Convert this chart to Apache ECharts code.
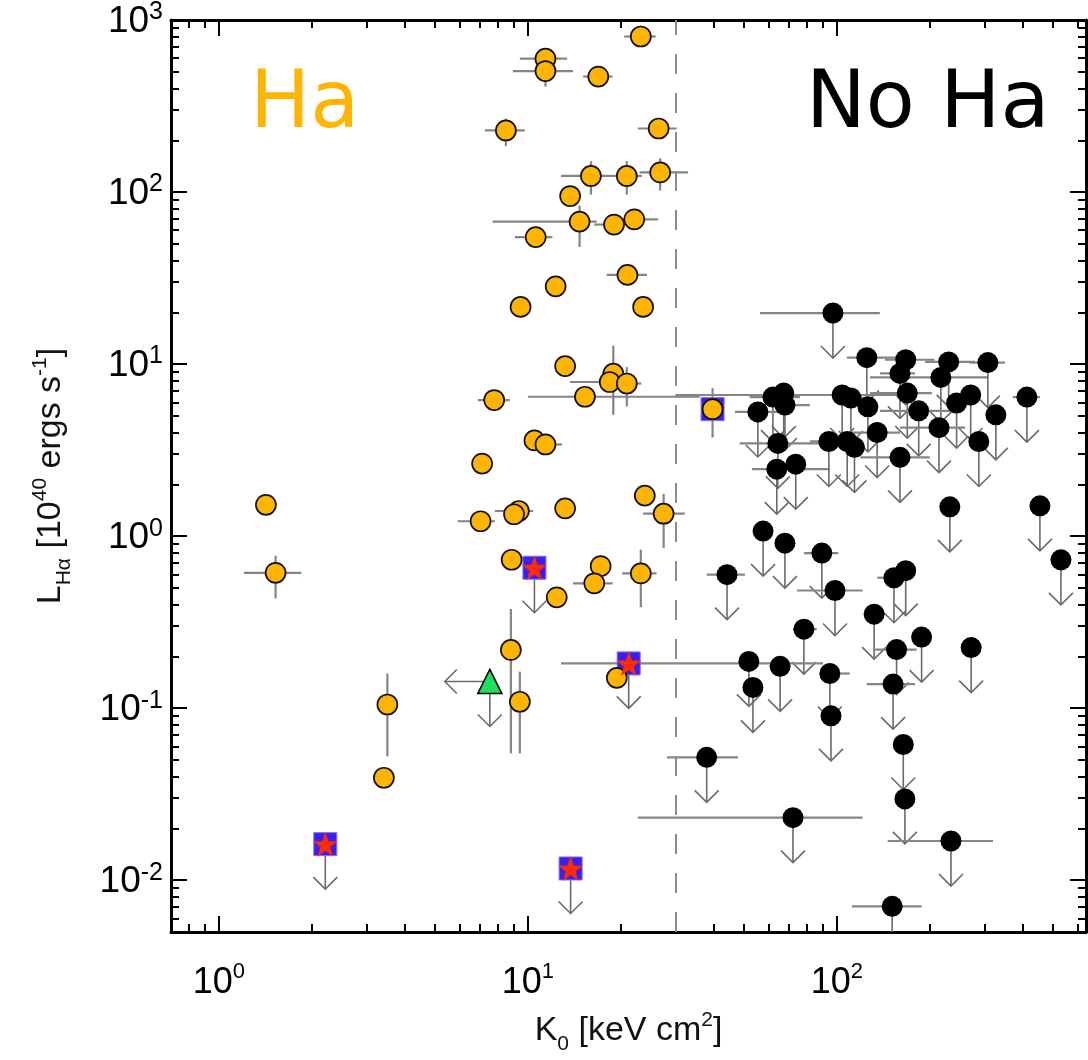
<!DOCTYPE html>
<html>
<head>
<meta charset="utf-8">
<script src="https://cdn.jsdelivr.net/npm/echarts@6/dist/echarts.min.js"></script>
<style>
  html, body { margin: 0; padding: 0; background: #fff; }
  #chart { width: 1088px; height: 1060px; }
</style>
</head>
<body>
<div id="chart"></div>
<script>
// Central entropy K0 (keV cm^2) against H-alpha luminosity (1e40 erg/s).

// Axis ranges and tick values
const xRange = [0.7, 640];
const yRange = [0.005, 1000];
const xMajorTicks = [1, 10, 100];
const yMajorTicks = [0.01, 0.1, 1, 10, 100, 1000];
const xMinorTicks = [0.8, 0.9,
  2, 3, 4, 5, 6, 7, 8, 9,
  20, 30, 40, 50, 60, 70, 80, 90,
  200, 300, 400, 500, 600];
const yMinorTicks = [0.006, 0.007, 0.008, 0.009,
  0.02, 0.03, 0.04, 0.05, 0.06, 0.07, 0.08, 0.09,
  0.2, 0.3, 0.4, 0.5, 0.6, 0.7, 0.8, 0.9,
  2, 3, 4, 5, 6, 7, 8, 9,
  20, 30, 40, 50, 60, 70, 80, 90,
  200, 300, 400, 500, 600, 700, 800, 900];

// Entropy threshold separating the two populations
const entropyThreshold = 30;

// H-alpha detected systems: [K0, L, K0 low, K0 high, L low, L high]
const haDetected = [
  [23.2, 802, 20.5, 25.9, null, null],
  [11.4, 596, 9.42, 13.4, null, null],
  [11.4, 505, 8.94, 14.0, 410, 600],
  [16.9, 469, 15.1, 18.8, null, null],
  [8.49, 228, 7.26, 9.78, 185, 267],
  [26.5, 234, 22.7, 30.3, null, null],
  [16.0, 124, 12.8, 18.8, 96.6, 151],
  [20.9, 124, 18.7, 23.4, 96.6, 151],
  [26.8, 130, 23.0, 33.0, 102, 157],
  [13.7, 94.8, null, null, null, null],
  [14.7, 67.3, 7.69, 16.7, 47.9, 83.4],
  [19.0, 64.7, 16.4, 20.5, null, null],
  [22.1, 69.4, 19.9, 26.4, null, null],
  [10.6, 54.7, 9.08, 12.0, null, null],
  [21.0, 33.0, 18.0, 24.3, null, null],
  [12.3, 28.3, null, null, null, null],
  [9.47, 21.5, null, null, null, null],
  [23.6, 21.5, null, null, null, null],
  [13.2, 9.73, null, null, null, null],
  [18.9, 8.79, null, null, 5.07, 12.8],
  [18.4, 7.87, 13.7, 19.5, null, null],
  [20.9, 7.71, 19.1, 23.3, 5.67, 9.6],
  [15.3, 6.46, 10.0, 36.0, null, null],
  [7.78, 6.18, 6.89, 8.74, null, null],
  [10.5, 3.60, null, null, null, null],
  [11.4, 3.41, 10.6, 12.9, null, null],
  [7.11, 2.64, null, null, null, null],
  [23.9, 1.72, null, null, null, null],
  [27.5, 1.35, 23.6, 32.2, 0.853, 1.76],
  [13.2, 1.45, null, null, null, null],
  [9.35, 1.40, 7.82, 10.4, null, null],
  [9.02, 1.34, null, null, null, null],
  [7.03, 1.22, 5.93, 7.82, null, null],
  [8.86, 0.729, null, null, null, null],
  [12.4, 0.441, null, null, null, null],
  [17.2, 0.670, null, null, null, null],
  [16.4, 0.532, 14.0, 18.8, null, null],
  [23.2, 0.607, 20.2, 26.1, 0.386, 0.834],
  [8.81, 0.218, null, null, 0.0546, 0.377],
  [9.42, 0.109, null, null, 0.0546, 0.163],
  [19.4, 0.150, null, null, null, null],
  [1.42, 1.52, null, null, null, null],
  [1.526, 0.612, 1.205, 1.85, 0.435, 0.769],
  [3.51, 0.105, null, null, 0.0525, 0.159],
  [3.42, 0.0394, null, null, null, null],
  [39.6, 5.47, null, null, 3.74, 7.24]
];

// Detected system drawn inside a blue box
const haBoxed = [[39.6, 5.47]];

// Boxed star systems with upper limits on L: [K0, L, K0 low, K0 high]
const starLimits = [
  [10.5, 0.655, null, null],
  [21.2, 0.182, 12.8, 90.2],
  [2.21, 0.0162, null, null],
  [13.75, 0.0117, null, null]
];

// Triangle system: upper limits on both K0 and L
const triangleLimit = [[7.53, 0.143]];

// Non-detections (upper limits on L): [K0, L, K0 low, K0 high]
const noHaLimits = [
  [97.1, 19.8, 56.4, 137.7],
  [125, 10.9, 107.7, 166],
  [167, 10.6, 143, 207],
  [160, 8.83, 138, 179],
  [230, 10.3, 193, 280],
  [217, 8.37, 128, 308],
  [308, 10.2, 269, 350],
  [169, 6.78, 128, 203],
  [126, 5.64, null, null],
  [104, 6.61, 30, 165],
  [111, 6.35, null, null],
  [184, 5.35, 138, 232],
  [244, 5.94, null, null],
  [271, 6.61, null, null],
  [412, 6.43, 371, 454],
  [327, 5.07, null, null],
  [135, 4.00, 110, 160],
  [214, 4.27, 160, 260],
  [288, 3.55, null, null],
  [114, 3.28, null, null],
  [160, 2.87, 119, 200],
  [62.1, 6.43, 52.2, 75.9],
  [67.3, 6.78, null, null],
  [67.9, 5.78, 60.6, 81.8],
  [55.5, 5.27, 46.8, 65.5],
  [64.4, 3.46, 48.5, 88.1],
  [63.9, 2.45, 53.1, 94.9],
  [73.6, 2.62, null, null],
  [94.2, 3.55, 81.8, 110],
  [108, 3.55, null, null],
  [44.1, 0.597, 37.9, 50.4],
  [57.7, 1.07, null, null],
  [67.9, 0.910, null, null],
  [89.4, 0.797, 78.2, 101],
  [98.6, 0.483, 74.3, 121],
  [132, 0.352, null, null],
  [78.2, 0.288, 72.1, 86.1],
  [51.9, 0.187, null, null],
  [65.5, 0.175, null, null],
  [53.5, 0.132, null, null],
  [94.9, 0.159, 88.1, 110],
  [95.7, 0.0902, null, null],
  [37.9, 0.0518, 28.2, 47.9],
  [72.1, 0.0231, 22.7, 121],
  [232, 1.48, null, null],
  [454, 1.50, null, null],
  [531, 0.728, null, null],
  [167, 0.630, null, null],
  [153, 0.573, 135, 170],
  [188, 0.259, null, null],
  [156, 0.219, 131, 181],
  [272, 0.225, null, null],
  [152, 0.138, 125, 179],
  [164, 0.0615, null, null],
  [166, 0.0297, null, null],
  [234, 0.0169, 146, 320],
  [151, 0.00705, 112, 188]
];

// ---- drawing helpers ----
const BAR_COLOR = '#858585';
const ARROW_COLOR = '#6a6a6a';
const ARROW_LEN = 45;
const ARROW_HEAD = 12;

function seg(x1, y1, x2, y2, color, width) {
  return {
    type: 'line',
    shape: { x1: x1, y1: y1, x2: x2, y2: y2 },
    style: { stroke: color, lineWidth: width }
  };
}

function downArrow(x, y) {
  return [
    seg(x, y, x, y + ARROW_LEN, ARROW_COLOR, 1.6),
    {
      type: 'polyline',
      shape: { points: [[x - ARROW_HEAD, y + ARROW_LEN - ARROW_HEAD], [x, y + ARROW_LEN], [x + ARROW_HEAD, y + ARROW_LEN - ARROW_HEAD]] },
      style: { stroke: ARROW_COLOR, lineWidth: 1.6, fill: null }
    }
  ];
}

function leftArrow(x, y) {
  return [
    seg(x, y, x - ARROW_LEN, y, ARROW_COLOR, 1.6),
    {
      type: 'polyline',
      shape: { points: [[x - ARROW_LEN + ARROW_HEAD, y - ARROW_HEAD], [x - ARROW_LEN, y], [x - ARROW_LEN + ARROW_HEAD, y + ARROW_HEAD]] },
      style: { stroke: ARROW_COLOR, lineWidth: 1.6, fill: null }
    }
  ];
}

// error bars (and optional limit arrows) for a table of rows
function barsRenderer(rows, withDownArrow, withLeftArrow) {
  return function (params, api) {
    const r = rows[params.dataIndex];
    const c = api.coord([r[0], r[1]]);
    const kids = [];
    if (r[2] != null && r[3] != null) {
      const a = api.coord([r[2], r[1]]);
      const b = api.coord([r[3], r[1]]);
      kids.push(seg(a[0], c[1], b[0], c[1], BAR_COLOR, 2.2));
    }
    if (r.length > 4 && r[4] != null && r[5] != null) {
      const a = api.coord([r[0], r[4]]);
      const b = api.coord([r[0], r[5]]);
      kids.push(seg(c[0], a[1], c[0], b[1], BAR_COLOR, 2.2));
    }
    if (withDownArrow) kids.push.apply(kids, downArrow(c[0], c[1]));
    if (withLeftArrow) kids.push.apply(kids, leftArrow(c[0], c[1]));
    return { type: 'group', children: kids };
  };
}

function pointsOf(rows) {
  return rows.map(function (r) { return [r[0], r[1]]; });
}

// ---- axes ----
const tickFont = "'Liberation Sans', Arial, sans-serif";
const NAME_COLOR = '#111';

function powerLabel(value) {
  const e = Math.round(Math.log10(value));
  return '{b|10}{s|' + e + '}';
}

function nameRich() {
  return {
    n: { fontSize: 34, fontFamily: tickFont, color: NAME_COLOR, lineHeight: 40, verticalAlign: 'top', padding: [8, 0, 0, 0] },
    sub: { fontSize: 21, fontFamily: tickFont, color: NAME_COLOR, lineHeight: 40, verticalAlign: 'top', padding: [28, 0, 0, 0] },
    sup: { fontSize: 21, fontFamily: tickFont, color: NAME_COLOR, lineHeight: 40, verticalAlign: 'top', padding: [4, 0, 0, 0] }
  };
}

function xAxisDef(position, ticks, len, showLine, withLabels) {
  const ax = {
    type: 'log',
    logBase: 10,
    min: xRange[0],
    max: xRange[1],
    position: position,
    axisLine: { show: showLine, onZero: false, lineStyle: { color: '#000', width: 3 } },
    axisTick: { show: true, inside: true, length: len, customValues: ticks, lineStyle: { color: '#000', width: 2 } },
    axisLabel: { show: false },
    splitLine: { show: false },
    minorTick: { show: false },
    axisPointer: { show: false }
  };
  if (withLabels) {
    ax.axisLabel = {
      show: true,
      customValues: xMajorTicks,
      formatter: powerLabel,
      margin: 29,
      color: '#000',
      rich: {
        b: { fontSize: 36, fontFamily: tickFont, color: '#000', lineHeight: 40, verticalAlign: 'bottom' },
        s: { fontSize: 22, fontFamily: tickFont, color: '#000', lineHeight: 24, verticalAlign: 'top' }
      }
    };
    ax.name = '{n|K}{sub|0}{n| [keV cm}{sup|2}{n|]}';
    ax.nameLocation = 'middle';
    ax.nameGap = 74;
    ax.nameTextStyle = { rich: nameRich() };
  }
  return ax;
}

function yAxisDef(position, ticks, len, showLine, withLabels) {
  const ax = {
    type: 'log',
    logBase: 10,
    min: yRange[0],
    max: yRange[1],
    position: position,
    axisLine: { show: showLine, onZero: false, lineStyle: { color: '#000', width: 3 } },
    axisTick: { show: true, inside: true, length: len, customValues: ticks, lineStyle: { color: '#000', width: 2 } },
    axisLabel: { show: false },
    splitLine: { show: false },
    minorTick: { show: false },
    axisPointer: { show: false }
  };
  if (withLabels) {
    ax.axisLabel = {
      show: true,
      customValues: yMajorTicks,
      formatter: powerLabel,
      margin: 8,
      color: '#000',
      rich: {
        b: { fontSize: 37, fontFamily: tickFont, color: '#000', lineHeight: 40, verticalAlign: 'bottom' },
        s: { fontSize: 25, fontFamily: tickFont, color: '#000', lineHeight: 26, verticalAlign: 'top' }
      }
    };
    ax.name = '{n|L}{sub|Hα}{n| [10}{sup|40}{n| ergs s}{sup|-1}{n|]}';
    ax.nameLocation = 'middle';
    ax.nameGap = 105;
    ax.nameRotate = 90;
    ax.nameTextStyle = { rich: nameRich() };
  }
  return ax;
}

// ---- chart ----
const chart = echarts.init(document.getElementById('chart'), null, { renderer: 'canvas' });

const ORANGE = '#ffb400';
const BLUE = '#3a1ef2';
const RED = '#ff2a00';
const GREEN = '#1de05c';
const STAR = 'path://M50,2 L61.8,36.2 L97.6,36.2 L68.6,57.4 L79.4,91.6 L50,70.6 L20.6,91.6 L31.4,57.4 L2.4,36.2 L38.2,36.2 Z';

const option = {
  backgroundColor: '#fff',
  animation: false,
  grid: { left: 171, right: 2, top: 20, bottom: 116, containLabel: false },
  xAxis: [
    xAxisDef('bottom', xMajorTicks, 16, true, true),
    xAxisDef('bottom', xMinorTicks, 8, false, false),
    xAxisDef('top', xMajorTicks, 16, true, false),
    xAxisDef('top', xMinorTicks, 8, false, false)
  ],
  yAxis: [
    yAxisDef('left', yMajorTicks, 16, true, true),
    yAxisDef('left', yMinorTicks, 8, false, false),
    yAxisDef('right', yMajorTicks, 16, true, false),
    yAxisDef('right', yMinorTicks, 8, false, false)
  ],
  graphic: [
    { type: 'text', left: 250, top: 66, z: 10,
      style: { text: 'Ha', fill: ORANGE, font: "80px 'DejaVu Sans', sans-serif" } },
    { type: 'text', left: 806, top: 66, z: 10,
      style: { text: 'No Ha', fill: '#000', font: "80px 'DejaVu Sans', sans-serif" } }
  ],
  series: [
    {
      type: 'custom', name: 'Ha errors', clip: true, z: 1,
      data: pointsOf(haDetected),
      renderItem: barsRenderer(haDetected, false, false),
      markLine: {
        silent: true, symbol: 'none', label: { show: false },
        lineStyle: { color: '#8c8c8c', width: 2, type: [20, 19] },
        data: [{ xAxis: entropyThreshold }]
      }
    },
    {
      type: 'custom', name: 'No Ha limits', clip: true, z: 1,
      data: pointsOf(noHaLimits),
      renderItem: barsRenderer(noHaLimits, true, false)
    },
    {
      type: 'custom', name: 'Star limits', clip: true, z: 1,
      data: pointsOf(starLimits),
      renderItem: barsRenderer(starLimits, true, false)
    },
    {
      type: 'custom', name: 'Triangle limits', clip: true, z: 1,
      data: triangleLimit,
      renderItem: barsRenderer(triangleLimit, true, true)
    },
    {
      type: 'scatter', name: 'No Ha', z: 3, symbol: 'circle', symbolSize: 21,
      itemStyle: { color: '#000', opacity: 1 },
      data: pointsOf(noHaLimits)
    },
    {
      type: 'scatter', name: 'Boxes', z: 3, symbol: 'rect', symbolSize: 23,
      itemStyle: { color: BLUE, borderColor: '#7f6cff', borderWidth: 1, opacity: 1 },
      data: pointsOf(starLimits).concat(haBoxed)
    },
    {
      type: 'scatter', name: 'Ha', z: 3, symbol: 'circle', symbolSize: 20,
      itemStyle: { color: ORANGE, borderColor: '#111', borderWidth: 1.7, opacity: 1 },
      data: pointsOf(haDetected)
    },
    {
      type: 'scatter', name: 'Stars', z: 3, symbol: STAR, symbolSize: 25,
      itemStyle: { color: RED, opacity: 1 },
      data: pointsOf(starLimits)
    },
    {
      type: 'scatter', name: 'Triangle', z: 3, symbol: 'triangle', symbolSize: 24,
      itemStyle: { color: GREEN, borderColor: '#000', borderWidth: 1.6, opacity: 1 },
      data: triangleLimit
    }
  ]
};

chart.setOption(option);
</script>
</body>
</html>
